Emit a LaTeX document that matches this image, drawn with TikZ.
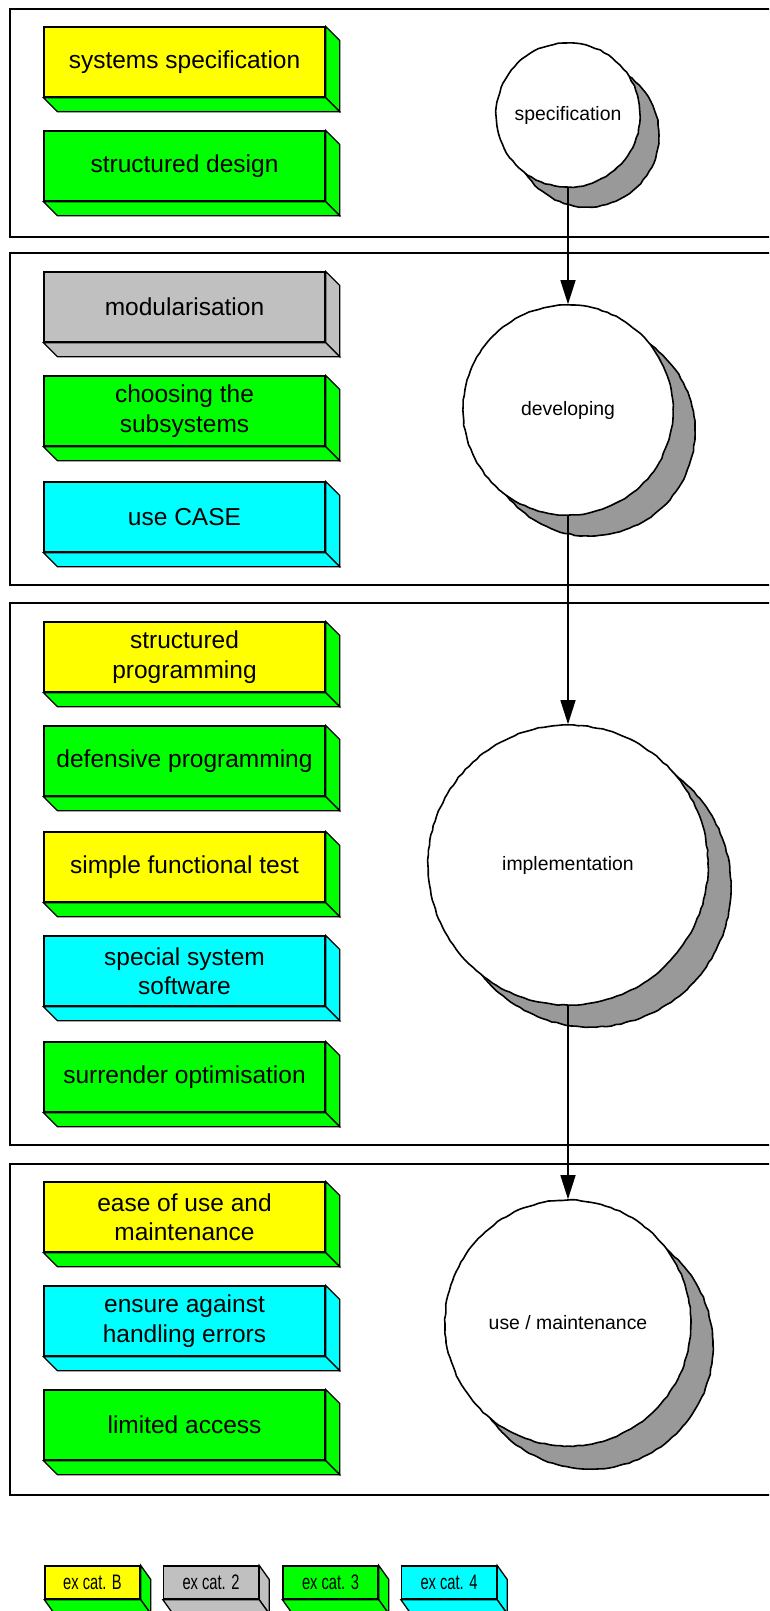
\documentclass[tikz,border=0pt]{standalone}
\usepackage{fontspec}
\setmainfont{Liberation Sans}
\newfontfamily\legendfont[FakeStretch=0.7]{Liberation Sans}
\usetikzlibrary{arrows.meta,calc,decorations.pathmorphing,backgrounds}

\definecolor{cgreen}{HTML}{00FF00}
\definecolor{cyellow}{HTML}{FFFF00}
\definecolor{ccyan}{HTML}{00FFFF}
\definecolor{cgray}{HTML}{C0C0C0}
\definecolor{cshade}{HTML}{999999}

% side and bottom faces of a slab node: #1 node, #2 colour, #3 depth vector
\newcommand{\slabsides}[3]{%
  \filldraw[fill=#2, edge] (#1.north east) -- ++(#3) -- ($(#1.south east)+(#3)$) -- (#1.south east) -- cycle;
  \filldraw[fill=#2, edge] (#1.south west) -- (#1.south east) -- ++(#3) -- ($(#1.south west)+(#3)$) -- cycle;}

\begin{document}
\begin{tikzpicture}[x=1pt, y=-1pt,
  edge/.style={draw=black, line width=1.3pt, line join=miter},
  frame/.style={draw=black, line width=1.4pt},
  slab/.style={edge, rectangle, minimum width=281pt, minimum height=70pt, inner sep=0pt,
    align=center, font=\fontsize{24.5}{29.5}\selectfont},
  keyslab/.style={edge, rectangle, minimum width=95pt, minimum height=33pt, inner sep=0pt,
    font=\legendfont\fontsize{21}{24}\selectfont},
  rough/.style={decorate, decoration={random steps, amplitude=0.5pt, segment length=5pt}},
  phase/.style={circle, draw=black, fill=white, line width=1.6pt, line join=round, inner sep=0pt, rough,
    font=\fontsize{19.4}{22}\selectfont},
  moon/.style={draw=black, fill=cshade, line width=1.6pt, line join=round, rough},
  flow/.style={line width=1.3pt, -{Triangle[width=15pt,length=24pt]}}]

\useasboundingbox (0,0) rectangle (769,1611);
\clip (0,0) rectangle (769,1611);

% phase frames (open to the right)
\draw[frame] (10,9) rectangle (790,237);
\draw[frame] (10,253) rectangle (790,585);
\draw[frame] (10,603) rectangle (790,1145);
\draw[frame] (10,1164) rectangle (790,1495);

% measures, phase 1
\node[slab, fill=cyellow] (s1) at (184.5,62) {systems specification};
\slabsides{s1}{cgreen}{14,14}
\node[slab, fill=cgreen] (s2) at (184.5,166) {structured design};
\slabsides{s2}{cgreen}{14,14}

% measures, phase 2
\node[slab, fill=cgray] (d1) at (184.5,307) {modularisation};
\slabsides{d1}{cgray}{14,14}
\node[slab, fill=cgreen] (d2) at (184.5,411) {choosing the\\subsystems};
\slabsides{d2}{cgreen}{14,14}
\node[slab, fill=ccyan] (d3) at (184.5,517) {use CASE};
\slabsides{d3}{ccyan}{14,14}

% measures, phase 3
\node[slab, fill=cyellow] (i1) at (184.5,657) {structured\\programming};
\slabsides{i1}{cgreen}{14,14}
\node[slab, fill=cgreen] (i2) at (184.5,761) {defensive programming};
\slabsides{i2}{cgreen}{14,14}
\node[slab, fill=cyellow] (i3) at (184.5,867) {simple functional test};
\slabsides{i3}{cgreen}{14,14}
\node[slab, fill=ccyan] (i4) at (184.5,971) {special system\\software};
\slabsides{i4}{ccyan}{14,14}
\node[slab, fill=cgreen] (i5) at (184.5,1077) {surrender optimisation};
\slabsides{i5}{cgreen}{14,14}

% measures, phase 4
\node[slab, fill=cyellow] (u1) at (184.5,1217) {ease of use and\\maintenance};
\slabsides{u1}{cgreen}{14,14}
\node[slab, fill=ccyan] (u2) at (184.5,1321) {ensure against\\handling errors};
\slabsides{u2}{ccyan}{14,14}
\node[slab, fill=cgreen] (u3) at (184.5,1425) {limited access};
\slabsides{u3}{cgreen}{14,14}

% phases
\node[phase, minimum size=144pt] (spec) at (568,115) {specification};
\node[phase, minimum size=210pt] (dev) at (568,410) {developing};
\node[phase, minimum size=280pt] (impl) at (568,865) {implementation};
\node[phase, minimum size=246pt] (use) at (568,1323) {use / maintenance};

\begin{scope}[on background layer]
  \draw[moon] ($(spec.center)+(19,20)$) circle[radius=72pt];
  \draw[moon] ($(dev.center)+(22,21)$) circle[radius=105pt];
  \draw[moon] ($(impl.center)+(23,22)$) circle[radius=140pt];
  \draw[moon] ($(use.center)+(22,23)$) circle[radius=123pt];
\end{scope}

\draw[flow] (spec.south) -- (dev.north);
\draw[flow] (dev.south) -- (impl.north);
\draw[flow] (impl.south) -- (use.north);

% legend
\node[keyslab, fill=cyellow] (k1) at (92.5,1582.5) {ex cat. B};
\slabsides{k1}{cgreen}{10,14}
\node[keyslab, fill=cgray] (k2) at (211,1582.5) {ex cat. 2};
\slabsides{k2}{cgray}{10,14}
\node[keyslab, fill=cgreen] (k3) at (330.5,1582.5) {ex cat. 3};
\slabsides{k3}{cgreen}{10,14}
\node[keyslab, fill=ccyan] (k4) at (449,1582.5) {ex cat. 4};
\slabsides{k4}{ccyan}{10,14}
\end{tikzpicture}
\end{document}
